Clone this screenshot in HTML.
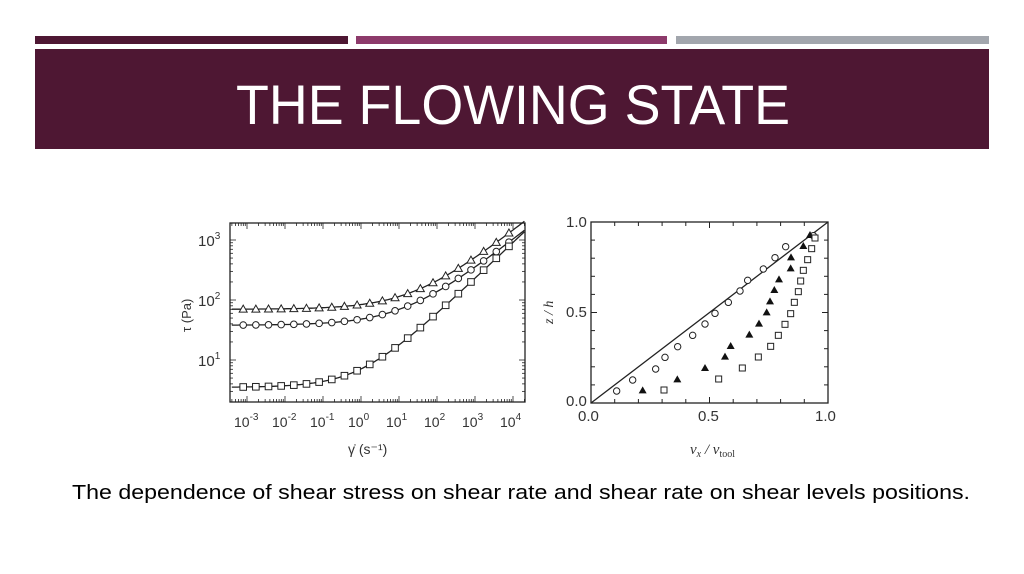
<!DOCTYPE html>
<html><head><meta charset="utf-8"><style>html,body{margin:0;padding:0;background:#fff}svg{display:block}</style></head>
<body>
<svg id="s" width="1024" height="574" xmlns="http://www.w3.org/2000/svg" font-family="Liberation Sans, sans-serif">
<rect width="1024" height="574" fill="#fff"/>
<rect x="35" y="36" width="313" height="8" fill="#4e1733"/>
<rect x="356" y="36" width="311" height="8" fill="#8d3a6b"/>
<rect x="676" y="36" width="313" height="8" fill="#a2a6ad"/>
<rect x="35" y="49" width="954" height="100" fill="#4e1733"/>
<text x="236" y="124" font-size="56" fill="#fff" textLength="554" lengthAdjust="spacingAndGlyphs">THE FLOWING STATE</text>
<g id="L"></g>
<g id="R"></g>
<text x="72" y="499" font-size="20" fill="#000" textLength="898" lengthAdjust="spacingAndGlyphs">The dependence of shear stress on shear rate and shear rate on shear levels positions.</text>
</svg>
<script>
const NS="http://www.w3.org/2000/svg";
function el(p,t,a,txt){const e=document.createElementNS(NS,t);for(const k in a)e.setAttribute(k,a[k]);if(txt!==undefined)e.textContent=txt;p.appendChild(e);return e;}
const L=document.getElementById('L'),R=document.getElementById('R');
const x0=230,x1=525,y0=223,y1=402;
const X=lg=>361+38*lg, Y=lt=>300-60*(lt-2);
el(L,'rect',{x:x0,y:y0,width:x1-x0,height:y1-y0,fill:'none',stroke:'#222','stroke-width':1.3});
for(let d=-4;d<=4;d++){for(let m=1;m<10;m++){const lx=d+Math.log10(m);const px=X(lx);if(px<x0||px>x1)continue;const len=m==1?6:3;
el(L,'line',{x1:px,y1:y1,x2:px,y2:y1-len,stroke:'#222','stroke-width':0.8});el(L,'line',{x1:px,y1:y0,x2:px,y2:y0+len,stroke:'#222','stroke-width':0.8});}}
for(let d=0;d<=3;d++){for(let m=1;m<10;m++){const ly=d+Math.log10(m);const py=Y(ly);if(py<y0||py>y1)continue;const len=m==1?6:3;
el(L,'line',{x1:x0,y1:py,x2:x0+len,y2:py,stroke:'#222','stroke-width':0.8});el(L,'line',{x1:x1,y1:py,x2:x1-len,y2:py,stroke:'#222','stroke-width':0.8});}}
[[3,240],[2,300],[1,360]].forEach(([e,py])=>{const t=el(L,'text',{x:198,y:py+6,'font-size':15,fill:'#333'},'10');el(t,'tspan',{dy:-7,'font-size':10},e);});
for(let e=-3;e<=4;e++){const t=el(L,'text',{x:X(e)-13,y:427,'font-size':14,fill:'#333'},'10');el(t,'tspan',{dy:-7,'font-size':10},e);}
el(L,'text',{x:348,y:454,'font-size':14,fill:'#333'},'γ̇ (s⁻¹)');
el(L,'text',{x:0,y:0,'font-size':13,fill:'#333',transform:'translate(191,332) rotate(-90)'},'τ (Pa)');
const curves=[[g=>70+14*Math.sqrt(g),'tri'],[g=>38+10*Math.sqrt(g),'cir'],[g=>3.5+3.6*Math.pow(g,0.6),'sq']];
curves.forEach(([f,m])=>{let d='';for(let lx=-3.5;lx<=4.3;lx+=0.05){const px=X(lx),py=Y(Math.log10(f(Math.pow(10,lx))));if(px<x0||px>x1)continue;d+=(d?'L':'M')+px.toFixed(1)+','+py.toFixed(1);}
el(L,'path',{d:d,fill:'none',stroke:'#222','stroke-width':1.3});
for(let lx=-3.1;lx<=3.9;lx+=0.333){const px=X(lx),py=Y(Math.log10(f(Math.pow(10,lx))));
if(m=='tri')el(L,'path',{d:`M${px},${py-4}L${px+4},${py+3}L${px-4},${py+3}Z`,fill:'#fff',stroke:'#222','stroke-width':1});
else if(m=='cir')el(L,'circle',{cx:px,cy:py,r:3.3,fill:'#fff',stroke:'#222','stroke-width':1});
else el(L,'rect',{x:px-3.3,y:py-3.3,width:6.6,height:6.6,fill:'#fff',stroke:'#222','stroke-width':1});}});
const rx0=591,rx1=828,ry0=222,ry1=403;
el(R,'rect',{x:rx0,y:ry0,width:rx1-rx0,height:ry1-ry0,fill:'none',stroke:'#222','stroke-width':1.3});
for(let i=1;i<10;i++){const px=rx0+(rx1-rx0)*i/10,py=ry1-(ry1-ry0)*i/10;const len=i==5?6:4;
el(R,'line',{x1:px,y1:ry1,x2:px,y2:ry1-len,stroke:'#222'});el(R,'line',{x1:px,y1:ry0,x2:px,y2:ry0+len,stroke:'#222'});
el(R,'line',{x1:rx0,y1:py,x2:rx0+len,y2:py,stroke:'#222'});el(R,'line',{x1:rx1,y1:py,x2:rx1-len,y2:py,stroke:'#222'});}
el(R,'line',{x1:rx0,y1:ry1,x2:rx1,y2:ry0,stroke:'#222','stroke-width':1.3});
[['1.0',227],['0.5',317],['0.0',406]].forEach(([t,py])=>el(R,'text',{x:566,y:py,'font-size':15,fill:'#333'},t));
[['0.0',578],['0.5',698],['1.0',815]].forEach(([t,px])=>el(R,'text',{x:px,y:421,'font-size':15,fill:'#333'},t));
el(R,'text',{x:0,y:0,'font-size':14,fill:'#333','font-family':'Liberation Serif, serif','font-style':'italic',transform:'translate(553,324) rotate(-90)'},'z / h');
const lab=el(R,'text',{x:690,y:454,'font-size':15,fill:'#333','font-family':'Liberation Serif, serif','font-style':'italic'},'v');
el(lab,'tspan',{dy:3,'font-size':10},'x');el(lab,'tspan',{dy:-3},' / v');el(lab,'tspan',{dy:3,'font-size':10,'font-style':'normal'},'tool');
const C=[[200,543],[248,510],[317,477],[345,442],[383,410],[428,376],[465,342],[495,310],[535,277],[570,243],[593,211],[640,177],[675,143],[707,110],[790,77]];
const T=[[278,541],[382,508],[465,474],[525,440],[542,408],[598,374],[627,341],[650,307],[660,274],[673,240],[687,208],[722,175],[723,142],[760,108],[780,75]];
const S=[[342,540],[506,507],[577,474],[625,441],[662,409],[685,376],[705,343],[722,311],[733,277],[745,245],[752,213],[760,181],[773,149],[785,116],[795,84]];
const P=([a,b])=>[550+a/3,210+b/3];
C.forEach(p=>{const [x,y]=P(p);el(R,'circle',{cx:x,cy:y,r:3.2,fill:'#fff',stroke:'#222'});});
T.forEach(p=>{const [x,y]=P(p);el(R,'path',{d:`M${x},${y-4}L${x+4},${y+3}L${x-4},${y+3}Z`,fill:'#111'});});
S.forEach(p=>{const [x,y]=P(p);el(R,'rect',{x:x-3,y:y-3,width:6,height:6,fill:'#fff',stroke:'#222'});});
</script>
</body></html>
